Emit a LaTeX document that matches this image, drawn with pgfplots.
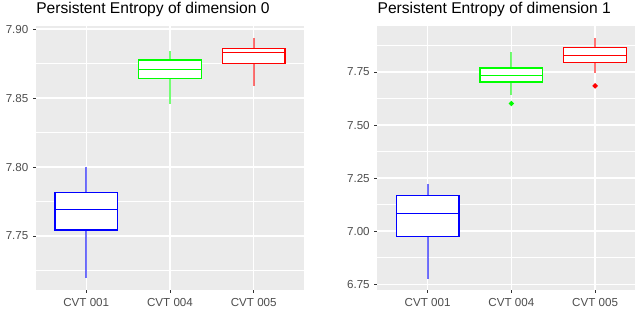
\documentclass[border=0pt]{standalone}
\usepackage{fontspec}
\setmainfont{Liberation Sans}
\usepackage{pgfplots}
\pgfplotsset{compat=1.18}
\usepgfplotslibrary{statistics}
\definecolor{panel}{HTML}{EBEBEB}
\definecolor{ticklab}{HTML}{4D4D4D}
\definecolor{tickc}{HTML}{333333}
\definecolor{ggblue}{HTML}{0000FF}
\definecolor{gggreen}{HTML}{00FF00}
\definecolor{ggred}{HTML}{FF0000}
\pgfplotsset{
  gg/.style={
    scale only axis, height=198pt,
    axis background/.style={fill=panel},
    axis line style={draw=none},
    tick pos=left, tick align=outside,
    major tick length=2.2pt,
    minor tick length=0pt,
    tick style={tickc, line width=0.55pt},
    xmajorgrids, ymajorgrids, yminorgrids,
    major grid style={white, line width=1.1pt},
    minor grid style={white, line width=0.55pt},
    xmin=0.4, xtick={1,2,3}, xticklabels={CVT 001, CVT 004, CVT 005},
    ticklabel style={font=\fontsize{8.7}{10}\selectfont, text=ticklab},
    yticklabel style={/pgf/number format/.cd, fixed, fixed zerofill, precision=2, assume math mode=true},
    xticklabel style={yshift=-0.5pt},
    title style={at={(0,1)}, anchor=base west, inner sep=0pt, yshift=3.3pt, font=\fontsize{11.7}{13}\selectfont, text=black},
    /pgfplots/boxplot/draw direction=y,
    /pgfplots/boxplot/box extend=0.75,
    /pgfplots/boxplot/whisker extend=0,
  },
  bx/.style={color=#1, line width=1pt, mark=*, mark size=1.4pt, mark options={fill=#1, draw=none},
    /pgfplots/boxplot/every box/.style={draw=#1, line width=1pt, fill=white},
    /pgfplots/boxplot/every median/.style={draw=#1, line width=1.05pt},
    /pgfplots/boxplot/every whisker/.style={draw=#1, line width=1.5pt, draw opacity=0.55}},
}
\begin{document}
\begin{tikzpicture}
\useasboundingbox (0,0) rectangle (476.25pt,232.5pt);
\begin{axis}[gg, at={(27pt,15pt)}, anchor=south west, width=201pt,
  xmax=3.6, ymin=7.7109, ymax=7.9022,
  ytick={7.75,7.80,7.85,7.90},
  minor ytick={7.725,7.775,7.825,7.875},
  title={Persistent Entropy of dimension 0}]
\addplot[bx=ggblue, boxplot prepared={draw position=1,
  lower whisker=7.7193, lower quartile=7.7543, median=7.7691,
  upper quartile=7.7814, upper whisker=7.8000}] coordinates {};
\addplot[bx=gggreen, boxplot prepared={draw position=2,
  lower whisker=7.8459, lower quartile=7.8641, median=7.8708,
  upper quartile=7.8775, upper whisker=7.8841}] coordinates {};
\addplot[bx=ggred, boxplot prepared={draw position=3,
  lower whisker=7.8587, lower quartile=7.8751, median=7.8831,
  upper quartile=7.8860, upper whisker=7.8932}] coordinates {};
\end{axis}
\begin{axis}[gg, at={(283pt,15pt)}, anchor=south west, width=193.3pt,
  xmax=3.477, ymin=6.723, ymax=7.967,
  ytick={6.75,7.00,7.25,7.50,7.75},
  minor ytick={6.875,7.125,7.375,7.625,7.875},
  title={Persistent Entropy of dimension 1}]
\addplot[bx=ggblue, boxplot prepared={draw position=1,
  lower whisker=6.776, lower quartile=6.976, median=7.083,
  upper quartile=7.168, upper whisker=7.222}] coordinates {};
\addplot[bx=gggreen, boxplot prepared={draw position=2,
  lower whisker=7.640, lower quartile=7.703, median=7.7325,
  upper quartile=7.769, upper whisker=7.843}] table[row sep=\\, y index=0] {7.602\\};
\addplot[bx=ggred, boxplot prepared={draw position=3,
  lower whisker=7.747, lower quartile=7.794, median=7.829,
  upper quartile=7.865, upper whisker=7.909}] table[row sep=\\, y index=0] {7.685\\};
\end{axis}
\end{tikzpicture}
\end{document}
